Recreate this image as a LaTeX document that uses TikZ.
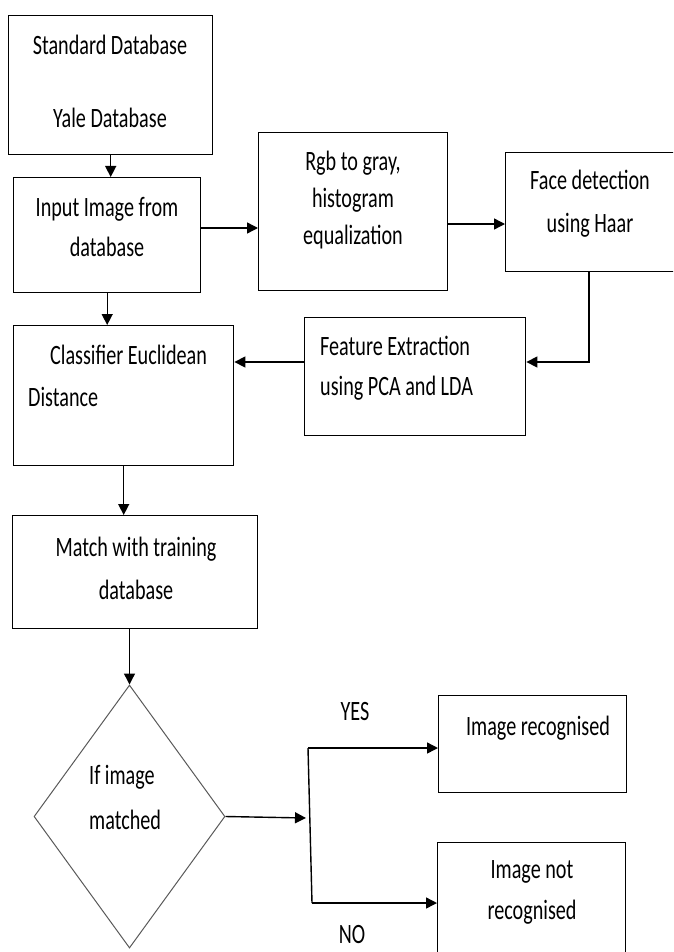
\documentclass[tikz,border=0pt]{standalone}
\usepackage{fontspec}
\setmainfont{Carlito}[FakeStretch=0.72]
\usetikzlibrary{arrows.meta}
\usetikzlibrary{shapes.geometric}

\begin{document}
\begin{tikzpicture}[x=1pt,y=1pt,yscale=-1,xscale=1,
  box/.style={draw, line width=1.4pt, inner sep=0pt, anchor=north west},
  txt/.style={inner sep=0pt, align=center, font=\fontsize{28}{40}\selectfont},
  flow/.style={line width=1.4pt, -{Triangle[length=11pt,width=11pt]}}]
\useasboundingbox (0,0) rectangle (673,952);
\clip (0,0) rectangle (673,952);

%Shape: Rectangle
\node[box, minimum width=204pt, minimum height=139pt] (std) at (8,15) {};
%Shape: Rectangle
\node[box, minimum width=187pt, minimum height=115pt] (input) at (13,177) {};
%Shape: Rectangle
\node[box, minimum width=189pt, minimum height=158pt] (rgb) at (258,132) {};
%Shape: Rectangle
\node[box, minimum width=195pt, minimum height=119pt] (face) at (505,152) {};
%Shape: Rectangle
\node[box, minimum width=221pt, minimum height=118pt] (feat) at (304,317) {};
%Shape: Rectangle
\node[box, minimum width=220pt, minimum height=140pt] (class) at (13,325) {};
%Shape: Rectangle
\node[box, minimum width=245pt, minimum height=113pt] (match) at (12,515) {};
%Shape: Diamond
\node[draw=black!65, line width=1pt, diamond, inner sep=0pt, minimum width=191pt, minimum height=263pt] (cond) at (129.5,816.5) {};
%Shape: Rectangle
\node[box, minimum width=188pt, minimum height=97pt] (rec) at (438,695) {};
%Shape: Rectangle
\node[box, minimum width=188pt, minimum height=138pt] (notrec) at (437,842) {};

%Straight Lines
\draw[flow] (std.south) -- (std.south |- input.north);
%Straight Lines
\draw[flow] (input.east |- 0,228) -- (rgb.west |- 0,228);
%Straight Lines
\draw[flow] (rgb.east |- 0,224) -- (face.west |- 0,224);
%Straight Lines
\draw[flow] (face.south -| 589,0) |- (feat.east |- 0,362);
%Straight Lines
\draw[flow] (feat.west |- 0,362) -- (class.east |- 0,362);
%Straight Lines
\draw[flow] (input.south) -- (input.south |- class.north);
%Straight Lines
\draw[flow] (class.south) -- (class.south |- match.north);
%Straight Lines
\draw[flow] (match.south -| cond.north) -- (cond.north);
%Straight Lines
\coordinate (split) at (306,818);
\draw[flow] (cond.east) -- (split);
\coordinate (yes) at (308,748);
\coordinate (no) at (312,903);
\draw[line width=1.4pt] (yes) -- (no);
\draw[flow] (yes) -- (yes -| rec.west);
\draw[flow] (no) -- (no -| notrec.west);

% Text Node
\node[txt] (tstd) at (110,81.5) {Standard Database\\[33pt]Yale Database};
% Text Node
\node[txt] (tinput) at (107,227) {Input Image from\\database};
% Text Node
\node[txt, font=\fontsize{28}{37}\selectfont] (trgb) at (353,200) {Rgb to gray,\\histogram\\equalization};
% Text Node
\node[txt, font=\fontsize{28}{43}\selectfont] (tface) at (590,203.5) {Face detection\\using Haar};
% Text Node
\node[txt, align=left, anchor=west] (tfeat) at (320,368) {Feature Extraction\\using PCA and LDA};
% Text Node
\node[txt, align=left, anchor=west, font=\fontsize{28}{42}\selectfont] (tclass) at (28,376) {\hspace*{22pt}Classifier Euclidean\\Distance};
% Text Node
\node[txt, font=\fontsize{28}{43}\selectfont] (tmatch) at (136,568.5) {Match with training\\database};
% Text Node
\node[txt, align=left, anchor=west, font=\fontsize{28}{45}\selectfont] (tif) at (89,797.5) {If image\\matched};
% Text Node
\node[txt] (trec) at (538,728) {Image recognised};
% Text Node
\node[txt, font=\fontsize{28}{41}\selectfont] (tnot) at (532,892.5) {Image not\\recognised};
% Text Node
\node[txt] (tyes) at (355,712) {YES};
% Text Node
\node[inner sep=0pt, font=\fontsize{28}{40}\selectfont, anchor=base] (tno) at (352,943) {NO};

\end{tikzpicture}
\end{document}
